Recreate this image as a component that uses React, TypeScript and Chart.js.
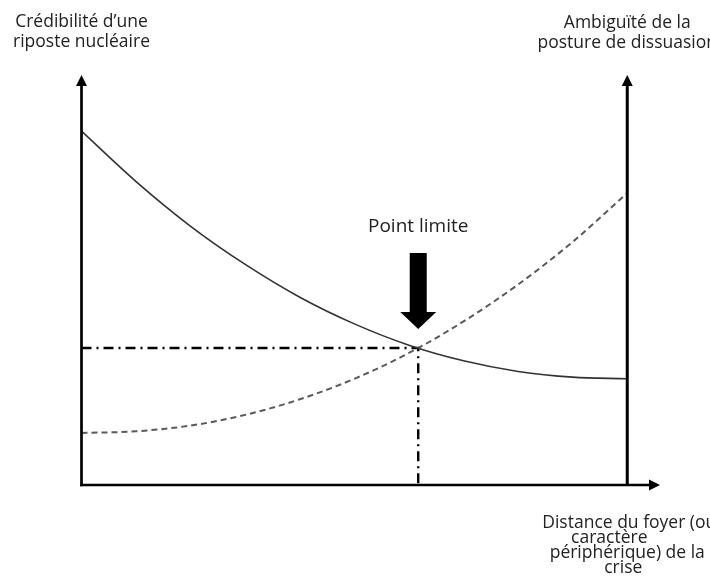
import React, { useEffect, useRef } from "react";
import { Chart, registerables } from "chart.js";

Chart.register(...registerables);

// Distance of the crisis (x, 0 = left axis, 100 = right axis)
const distance = [0, 10, 20, 30, 40, 50, 60, 70, 80, 90, 100];
// Credibility of a nuclear riposte (solid curve, left axis)
const credibilite = [86.3, 74.0, 63.1, 53.8, 45.8, 39.3, 34.1, 30.3, 27.7, 26.3, 25.9];
// Ambiguity of the deterrence posture (dashed curve, right axis)
const ambiguite = [12.7, 13.1, 14.5, 17.1, 20.9, 25.9, 32.2, 39.9, 48.9, 59.3, 71.2];
// Limit point (intersection)
const limitX = 61.7;
const limitY = 33.4;

const leftTitle = ["Crédibilité d’une", "riposte nucléaire"];
const rightTitle = ["Ambiguïté de la", "posture de dissuasion"];
const bottomTitle = ["Distance du foyer (ou", "caractère", "périphérique) de la", "crise"];
const pointLabel = "Point limite";

const FONT = '"Open Sans", "DejaVu Sans", sans-serif';

const overlayPlugin = {
  id: "overlay",
  afterDatasetsDraw(chart: any) {
    const { ctx, scales } = chart;
    const xs = scales.x;
    const ys = scales.y;
    const x0 = xs.getPixelForValue(0);
    const x100 = xs.getPixelForValue(100);
    const xEnd = xs.getPixelForValue(xs.max);
    const y0 = ys.getPixelForValue(0);
    const yTop = ys.getPixelForValue(ys.max);

    ctx.save();
    ctx.strokeStyle = "#000";
    ctx.fillStyle = "#000";
    ctx.setLineDash([]);

    // left axis
    ctx.lineWidth = 2.7;
    ctx.beginPath();
    ctx.moveTo(x0, y0 + 1.3);
    ctx.lineTo(x0, yTop + 8);
    ctx.stroke();
    // right axis
    ctx.lineWidth = 3;
    ctx.beginPath();
    ctx.moveTo(x100, y0);
    ctx.lineTo(x100, yTop + 8);
    ctx.stroke();
    // x axis
    ctx.lineWidth = 2.7;
    ctx.beginPath();
    ctx.moveTo(x0 - 1.3, y0);
    ctx.lineTo(xEnd - 8, y0);
    ctx.stroke();

    const arrowUp = (x: number) => {
      ctx.beginPath();
      ctx.moveTo(x, yTop);
      ctx.lineTo(x - 5.5, yTop + 11);
      ctx.lineTo(x + 5.5, yTop + 11);
      ctx.closePath();
      ctx.fill();
    };
    arrowUp(x0);
    arrowUp(x100);
    ctx.beginPath();
    ctx.moveTo(xEnd, y0);
    ctx.lineTo(xEnd - 11, y0 - 5.5);
    ctx.lineTo(xEnd - 11, y0 + 5.5);
    ctx.closePath();
    ctx.fill();

    // big arrow above limit point
    const px = xs.getPixelForValue(limitX);
    const py = ys.getPixelForValue(limitY);
    const tip = py - 19;
    ctx.beginPath();
    ctx.moveTo(px - 8.5, tip - 76);
    ctx.lineTo(px + 8.5, tip - 76);
    ctx.lineTo(px + 8.5, tip - 17);
    ctx.lineTo(px + 18, tip - 17);
    ctx.lineTo(px, tip);
    ctx.lineTo(px - 18, tip - 17);
    ctx.lineTo(px - 8.5, tip - 17);
    ctx.closePath();
    ctx.fill();

    // texts
    ctx.fillStyle = "#222";
    ctx.textAlign = "center";
    ctx.textBaseline = "alphabetic";
    ctx.font = `19px ${FONT}`;
    ctx.fillText(pointLabel, px, tip - 97);

    ctx.font = `17.5px ${FONT}`;
    ctx.fillText(leftTitle[0], x0, 27);
    ctx.fillText(leftTitle[1], x0, 47);
    ctx.fillText(rightTitle[0], x100, 28);
    ctx.fillText(rightTitle[1], x100, 48);

    const bx = x100;
    ctx.fillText(bottomTitle[0], bx + 2, 528);
    ctx.fillText(bottomTitle[1], bx - 18, 543);
    ctx.fillText(bottomTitle[2], bx, 558);
    ctx.fillText(bottomTitle[3], bx - 4, 573);

    ctx.restore();
  },
};

export default function App() {
  const ref = useRef<HTMLCanvasElement | null>(null);

  useEffect(() => {
    if (!ref.current) return;
    const chart = new Chart(ref.current, {
      type: "line",
      data: {
        datasets: [
          {
            label: "Crédibilité",
            data: distance.map((x, i) => ({ x, y: credibilite[i] })),
            borderColor: "#333",
            borderWidth: 1.6,
            pointRadius: 0,
            tension: 0.4,
            cubicInterpolationMode: "monotone",
          },
          {
            label: "Ambiguïté",
            data: distance.map((x, i) => ({ x, y: ambiguite[i] })),
            borderColor: "#5a5a5a",
            borderWidth: 2,
            borderDash: [6, 4],
            pointRadius: 0,
            tension: 0.4,
            cubicInterpolationMode: "monotone",
          },
          {
            label: "Point limite",
            data: [
              { x: 0, y: limitY },
              { x: limitX, y: limitY },
              { x: limitX, y: 0 },
            ],
            borderColor: "#000",
            borderWidth: 2.4,
            borderDash: [10, 5, 2, 5],
            pointRadius: 0,
            tension: 0,
          },
        ],
      },
      options: {
        animation: false,
        responsive: false,
        layout: { padding: { left: 81.5, top: 75, right: 50, bottom: 95 } },
        plugins: { legend: { display: false }, tooltip: { enabled: false } },
        scales: {
          x: { type: "linear", min: 0, max: 106, display: false },
          y: { type: "linear", min: 0, max: 100, display: false },
        },
      },
      plugins: [overlayPlugin],
    });
    return () => chart.destroy();
  }, []);

  return (
    <div style={{ position: "fixed", left: 0, top: 0, width: 710, height: 580, background: "#fff" }}>
      <canvas ref={ref} width={710} height={580} style={{ display: "block" }} />
    </div>
  );
}
